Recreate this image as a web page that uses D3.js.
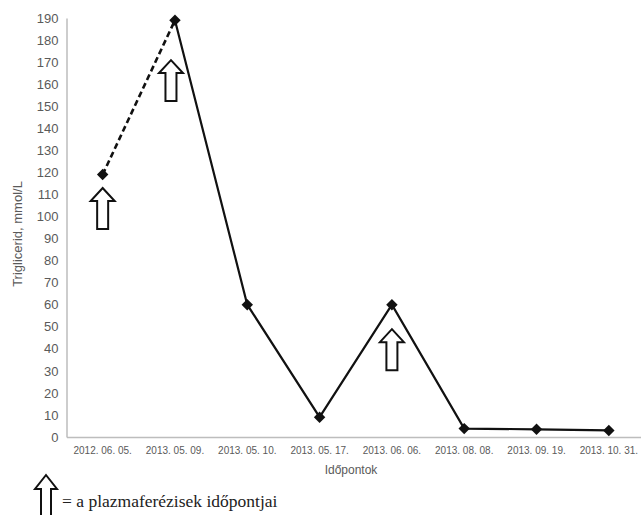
<!DOCTYPE html>
<html>
<head>
<meta charset="utf-8">
<script src="https://cdn.jsdelivr.net/npm/d3@7"></script>
<style>
  html, body { margin: 0; padding: 0; background: #ffffff; }
  svg { display: block; }
</style>
</head>
<body>
<svg id="chart" width="641" height="515"></svg>
<script>
// ---- data ----
const categories = ["2012. 06. 05.", "2013. 05. 09.", "2013. 05. 10.", "2013. 05. 17.",
                    "2013. 06. 06.", "2013. 08. 08.", "2013. 09. 19.", "2013. 10. 31."];
const triglyceride = [119, 189, 60, 9, 60, 3.8, 3.5, 3];
const yTicks = [0, 10, 20, 30, 40, 50, 60, 70, 80, 90, 100, 110, 120, 130, 140, 150, 160, 170, 180, 190];
// plasmapheresis markers: category and top of arrow (in mmol/L)
const arrowCategories = ["2012. 06. 05.", "2013. 05. 09.", "2013. 06. 06."];
const arrowTops = [112, 170, 48];
const yTitle = "Triglicerid, mmol/L";
const xTitle = "Időpontok";
const legendText = "= a plazmaferézisek időpontjai";

// ---- layout ----
const svg = d3.select("#chart");
const mLeft = 66.5, mRight = 645, mTop = 18, mBottom = 437;
const sans = "'Liberation Sans', Arial, sans-serif";
const serif = "'Liberation Serif', 'Times New Roman', 'DejaVu Serif', serif";

const x = d3.scaleBand().domain(categories).range([mLeft, mRight]).padding(0);
const y = d3.scaleLinear().domain([0, 190]).range([mBottom, mTop]);
const cx = c => x(c) + x.bandwidth() / 2;

// axes
const yAxis = d3.axisLeft(y).tickValues(yTicks).tickSize(0).tickPadding(8);
const gy = svg.append("g").attr("transform", `translate(${mLeft},0)`).call(yAxis);
gy.select(".domain").attr("stroke", "#bdbdbd").attr("stroke-width", 1.5);
gy.selectAll("text").style("font-family", sans)
  .style("font-size", "13px").attr("fill", "#5a5a5a");

const xAxis = d3.axisBottom(x).tickSize(0).tickPadding(10);
const gx = svg.append("g").attr("transform", `translate(0,${mBottom})`).call(xAxis);
gx.select(".domain").attr("stroke", "#bdbdbd").attr("stroke-width", 1.5);
gx.selectAll("text").style("font-family", sans)
  .style("font-size", "10px").attr("fill", "#5a5a5a");

// titles
svg.append("text")
  .attr("transform", `translate(22,234) rotate(-90)`)
  .attr("text-anchor", "middle")
  .style("font-family", sans)
  .style("font-size", "13px").attr("fill", "#5a5a5a")
  .text(yTitle);

svg.append("text")
  .attr("x", 351).attr("y", 474)
  .attr("text-anchor", "middle")
  .style("font-family", sans)
  .style("font-size", "12px").attr("fill", "#5a5a5a")
  .text(xTitle);

// line: first segment dashed, rest solid
const pts = categories.map((c, i) => [cx(c), y(triglyceride[i])]);
const line = d3.line();
svg.append("path").attr("d", line(pts.slice(0, 2)))
  .attr("fill", "none").attr("stroke", "#111").attr("stroke-width", 2.6)
  .attr("stroke-dasharray", "6,3.5");
svg.append("path").attr("d", line(pts.slice(1)))
  .attr("fill", "none").attr("stroke", "#111").attr("stroke-width", 2.2)
  .attr("stroke-linejoin", "miter");

// markers
svg.append("g").selectAll("path").data(pts).join("path")
  .attr("d", d3.symbol().type(d3.symbolSquare).size(66)())
  .attr("transform", d => `translate(${d[0]},${d[1]}) rotate(45)`)
  .attr("fill", "#111");

// hollow up-arrow shape
function arrowPath(w, headH, shaftW, h) {
  const hw = w / 2, sw = shaftW / 2;
  return `M0,0 L${hw},${headH} L${sw},${headH} L${sw},${h} L${-sw},${h} L${-sw},${headH} L${-hw},${headH} Z`;
}
svg.append("g").selectAll("path").data(arrowCategories).join("path")
  .attr("d", arrowPath(24, 13, 11, 41))
  .attr("transform", (c, i) => `translate(${cx(c) - (i === 1 ? 4 : 0)},${y(arrowTops[i]) - 2})`)
  .attr("fill", "#fff").attr("stroke", "#111").attr("stroke-width", 2)
  .attr("stroke-linejoin", "miter");

// legend
svg.append("path")
  .attr("d", arrowPath(22, 14, 10, 50))
  .attr("transform", "translate(46,475)")
  .attr("fill", "#fff").attr("stroke", "#111").attr("stroke-width", 2);
svg.append("text")
  .attr("x", 62).attr("y", 507)
  .style("font-family", serif)
  .style("font-size", "17.5px").attr("fill", "#222")
  .text(legendText);
</script>
</body>
</html>
